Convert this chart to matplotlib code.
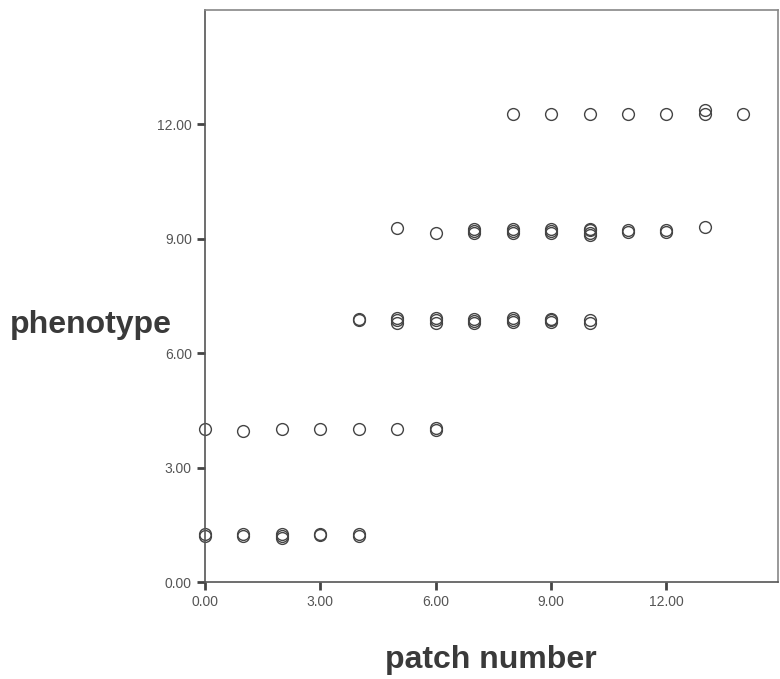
import numpy as np
import matplotlib.pyplot as plt

# scatter of phenotype vs patch number, overlapping points listed repeatedly
patch_a = [0, 0, 1, 1, 2, 2, 2, 3, 3, 4, 4]
pheno_a = [1.2, 1.26, 1.2, 1.25, 1.15, 1.2, 1.25, 1.22, 1.27, 1.2, 1.26]

patch_b = [0, 1, 2, 3, 4, 5, 6, 6]
pheno_b = [4.02, 3.96, 4.0, 4.0, 4.0, 4.0, 3.99, 4.03]

patch_c = [4, 4, 5, 5, 5, 6, 6, 6, 7, 7, 7, 8, 8, 8, 9, 9, 9, 10, 10]
pheno_c = [6.86, 6.89, 6.8, 6.86, 6.92, 6.8, 6.86, 6.92, 6.78, 6.84, 6.9,
           6.82, 6.87, 6.92, 6.82, 6.87, 6.9, 6.8, 6.88]

patch_d = [5, 6, 7, 7, 7, 8, 8, 8, 9, 9, 9, 10, 10, 10, 10, 11, 11, 12, 12, 13]
pheno_d = [9.28, 9.14, 9.16, 9.21, 9.26, 9.16, 9.2, 9.25, 9.15, 9.2, 9.25,
           9.1, 9.16, 9.22, 9.27, 9.17, 9.23, 9.17, 9.23, 9.3]

patch_e = [8, 9, 10, 11, 12, 13, 13, 14]
pheno_e = [12.28, 12.28, 12.28, 12.28, 12.28, 12.28, 12.38, 12.28]

ticks = [0, 3, 6, 9, 12]
tick_labels = ['0.00', '3.00', '6.00', '9.00', '12.00']

patch = np.concatenate([patch_a, patch_b, patch_c, patch_d, patch_e])
pheno = np.concatenate([pheno_a, pheno_b, pheno_c, pheno_d, pheno_e])

plt.rcParams['font.family'] = ['Liberation Sans', 'DejaVu Sans']

fig = plt.figure(figsize=(7.8, 6.79), dpi=100)
ax = fig.add_axes([205/780, 97/679, 573/780, 572/679])

ax.plot(patch, pheno, linestyle='none', marker='o', markersize=8.5,
        markerfacecolor='none', markeredgecolor='#444444', markeredgewidth=1.0,
        clip_on=False)

ax.set_xlim(0, 14.9)
ax.set_ylim(0, 15)
ax.set_xticks(ticks)
ax.set_xticklabels(tick_labels)
ax.set_yticks(ticks)
ax.set_yticklabels(tick_labels)
ax.tick_params(axis='both', direction='out', length=6, width=2,
               color='#444444', labelsize=10, labelcolor='#555555')
ax.tick_params(axis='x', pad=3)

for side in ['left', 'bottom']:
    ax.spines[side].set_color('#555555')
    ax.spines[side].set_linewidth(1.2)
for side in ['top', 'right']:
    ax.spines[side].set_color('#888888')
    ax.spines[side].set_linewidth(1.2)

fig.text(10/780, 1 - 325/679, 'phenotype', fontsize=23, fontweight='bold',
         color='#3a3a3a', ha='left', va='center')
fig.text(491/780, 1 - 660/679, 'patch number', fontsize=23, fontweight='bold',
         color='#3a3a3a', ha='center', va='center')

fig.savefig('out.png', dpi=100)
